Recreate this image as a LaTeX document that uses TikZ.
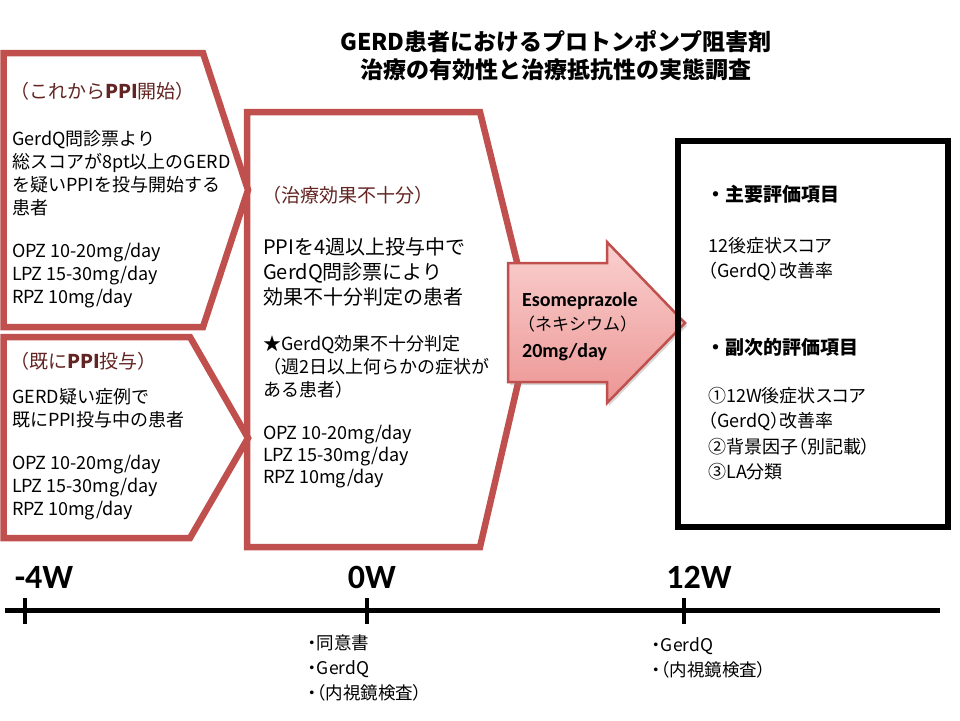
\documentclass[tikz,border=0pt]{standalone}
\usepackage{fontspec}
\setmainfont{Noto Sans CJK JP}
\newfontfamily\jpp[RawFeature=+palt]{Noto Sans CJK JP}
\newfontfamily\calib{Carlito}
\usetikzlibrary{shadows}
\definecolor{boxred}{RGB}{192,80,77}
\definecolor{hdrred}{RGB}{99,37,35}
\definecolor{arrowtop}{RGB}{249,208,207}
\definecolor{arrowbot}{RGB}{236,150,148}
\begin{document}
\begin{tikzpicture}[x=1pt,y=-1pt,
  redbox/.style={draw=boxred,line width=6.5pt,fill=white,line join=miter},
  txt/.style={inner sep=0pt,anchor=north west,align=left},
  fsA/.style={font=\fontsize{18}{23}\selectfont},
  fsB/.style={font=\fontsize{20}{25}\selectfont},
  fsR/.style={font=\jpp\fontsize{18}{25.5}\selectfont},
  hdr/.style={txt,text=hdrred,font=\fontsize{19}{23}\selectfont},
  week/.style={inner sep=0pt,anchor=center,font=\calib\bfseries\fontsize{34}{36}\selectfont},
  small/.style={txt,font=\jpp\fontsize{17.5}{25}\selectfont},
  axis/.style={line width=5pt},
  tick/.style={line width=4pt},
]
\useasboundingbox[fill=white] (0,0) rectangle (960,720);

% title
\node[inner sep=0pt,align=center,font=\bfseries\fontsize{23}{28}\selectfont] (title) at (556,56)
  {GERD患者におけるプロトンポンプ阻害剤\\治療の有効性と治療抵抗性の実態調査};

% middle box
\draw[redbox] (247,112) -- (480,112) -- (532,323) -- (480,547) -- (247,547) -- cycle;
% left boxes
\draw[redbox] (3.5,53) -- (203,53) -- (248,190) -- (203,327) -- (3.5,327) -- cycle;
\draw[redbox] (3.5,337) -- (190,337) -- (248,438) -- (190,538) -- (3.5,538) -- cycle;

% arrow
\draw[draw=boxred,line width=2.5pt,line join=miter,top color=arrowtop,bottom color=arrowbot,
      drop shadow={shadow xshift=2pt,shadow yshift=-3pt,opacity=0.3}]
  (508,263) -- (607,263) -- (607,242) -- (685,323) -- (607,403) -- (607,382) -- (508,382) -- cycle;

% right box
\draw[line width=6pt,line join=miter] (678,141) rectangle (948,527);

% top-left box text
\node[hdr] (h1) at (10,82) {（これから\textbf{PPI}開始）};
\node[txt,fsA] (b1) at (12,130) {GerdQ問診票より\\総スコアが8pt以上のGERD\\を疑いPPIを投与開始する\\患者};
\node[txt,fsA] (d1) at (12,243) {OPZ 10-20mg/day\\LPZ 15-30mg/day\\RPZ 10mg/day};

% bottom-left box text
\node[hdr] (h2) at (10,352) {（既に\textbf{PPI}投与）};
\node[txt,fsA] (b2) at (12,388) {GERD疑い症例で\\既にPPI投与中の患者};
\node[txt,fsA] (d2) at (12,455) {OPZ 10-20mg/day\\LPZ 15-30mg/day\\RPZ 10mg/day};

% middle box text
\node[hdr] (h3) at (262,186) {（治療効果不十分）};
\node[txt,fsB] (b3) at (263,237) {PPIを4週以上投与中で\\GerdQ問診票により\\効果不十分判定の患者};
\node[txt,fsA] (s3) at (263,335) {★GerdQ効果不十分判定\\（週2日以上何らかの症状が\\ある患者）};
\node[txt,font=\fontsize{18}{22}\selectfont] (d3) at (263,425) {OPZ 10-20mg/day\\LPZ 15-30mg/day\\RPZ 10mg/day};

% arrow text
\node[txt,font=\calib\bfseries\fontsize{20}{24}\selectfont] (eso) at (522,292) {Esomeprazole};
\node[txt,font=\fontsize{17}{20}\selectfont] (nex) at (518,316) {（ネキシウム）};
\node[txt,font=\calib\bfseries\fontsize{20}{24}\selectfont] (dose) at (522,343) {20mg/day};

% right box text
\node[txt,font=\bfseries\fontsize{19}{23}\selectfont] (p1) at (706,185) {・主要評価項目};
\node[txt,font=\jpp\fontsize{18}{25}\selectfont] (p2) at (708,237) {12後症状スコア\\（GerdQ）改善率};
\node[txt,font=\bfseries\fontsize{19}{23}\selectfont] (s1) at (706,338) {・副次的評価項目};
\node[txt,fsR] (s2) at (708,387) {①12W後症状スコア\\（GerdQ）改善率\\②背景因子（別記載）\\③LA分類};

% timeline
\coordinate (L) at (5,610);
\coordinate (R) at (940,610);
\draw[axis] (L) -- (R);
\coordinate (t1a) at (25,598); \coordinate (t1b) at (25,624);
\coordinate (t2a) at (367,598); \coordinate (t2b) at (367,624);
\coordinate (t3a) at (684,598); \coordinate (t3b) at (684,624);
\draw[tick] (t1a) -- (t1b);
\draw[tick] (t2a) -- (t2b);
\draw[tick] (t3a) -- (t3b);
\node[week] (w1) at (44,577) {-4W};
\node[week] (w2) at (372,577) {0W};
\node[week] (w3) at (699,577) {12W};

\node[small] (e0) at (308,635) {・同意書\\・GerdQ\\・（内視鏡検査）};
\node[small] (e12) at (652,637) {・GerdQ\\・（内視鏡検査）};
\end{tikzpicture}
\end{document}
